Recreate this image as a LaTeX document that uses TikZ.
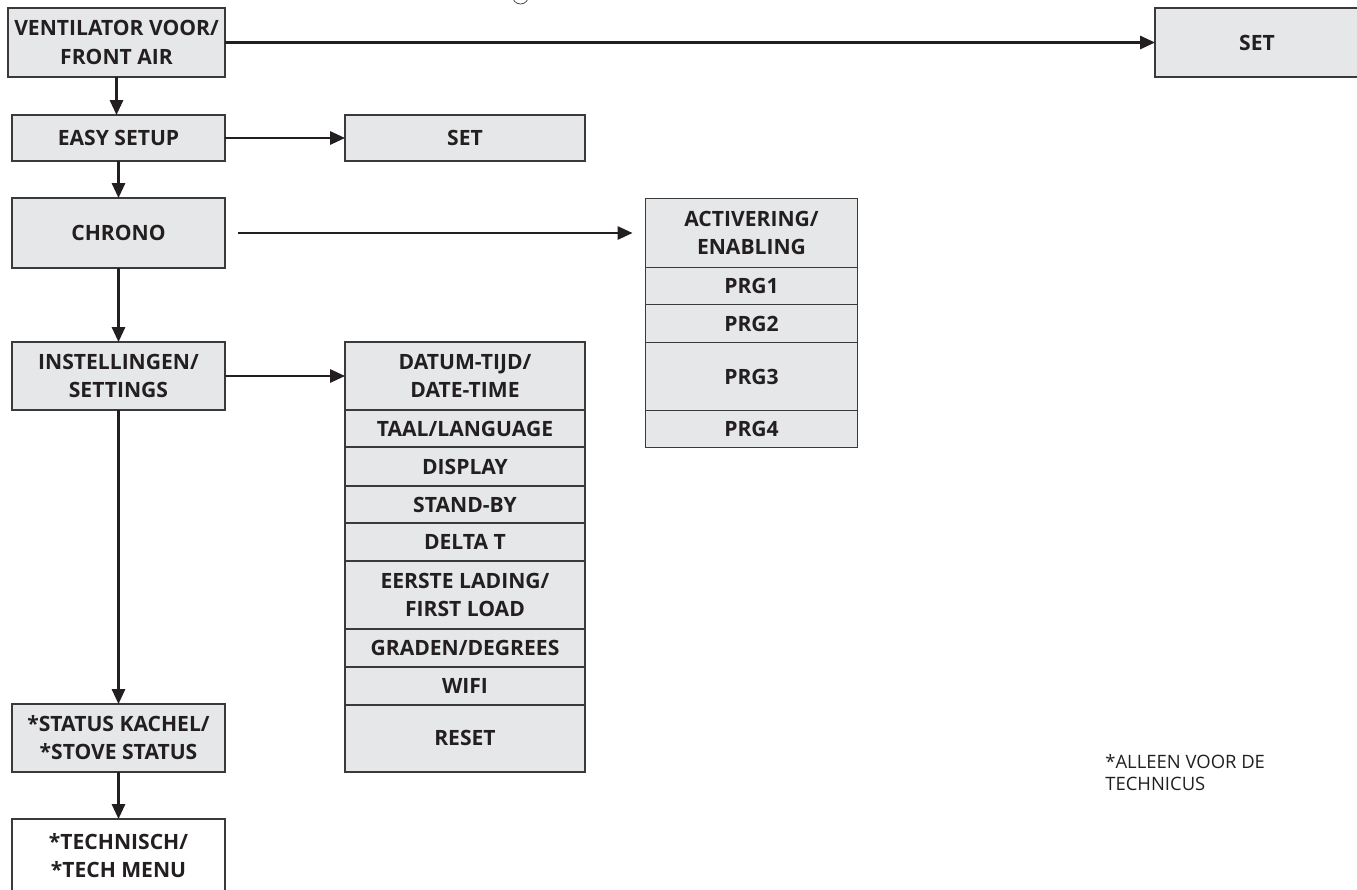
\documentclass[tikz,border=0pt]{standalone}
\usepackage{fontspec}
\setmainfont{Open Sans}
\usepackage{xcolor}
\usetikzlibrary{arrows.meta,positioning}
\definecolor{cInk}{HTML}{231F20}
\definecolor{cFill}{HTML}{E6E7E8}
\definecolor{cEdge}{HTML}{3A3A3C}
\tikzset{
  mbox/.style={draw=cEdge,fill=cFill,line width=0.7pt,align=center,inner sep=2pt,outer sep=0pt,
    text=cInk,font=\fontsize{12}{16}\selectfont\bfseries,minimum width=4.26cm},
  item/.style={mbox,minimum width=#1},
  item/.default=4.8cm,
  arr/.style={-{Triangle[length=8.5pt,width=7.5pt]},line width=1.35pt,color=cInk},
  note/.style={font=\fontsize{10.5}{12.5}\selectfont,text=cInk,align=left,anchor=north west,inner sep=0pt},
}
\begin{document}
\begin{tikzpicture}[x=0.02cm,y=-0.02cm]
  \useasboundingbox (0,0) rectangle (1357,890);
  % left column
  \node[mbox,minimum width=4.34cm,minimum height=1.38cm] (vent) at (116.5,42.5) {VENTILATOR VOOR/\\FRONT AIR};
  \node[mbox,minimum height=0.92cm] (easy) at (118.5,138) {EASY SETUP};
  \node[mbox,minimum height=1.40cm] (chrono) at (118.5,233) {CHRONO};
  \node[mbox,minimum height=1.36cm] (sett) at (118.5,376) {INSTELLINGEN/\\SETTINGS};
  \node[mbox,minimum height=1.36cm] (status) at (118.5,738) {*STATUS KACHEL/\\*STOVE STATUS};
  \node[mbox,fill=white,minimum height=1.46cm] (tech) at (118.5,855.5) {*TECHNISCH/\\*TECH MENU};
  % sub menus
  \node[mbox,minimum width=4.08cm,minimum height=1.38cm] (setA) at (1257,42.5) {SET};
  \node[item,minimum height=0.92cm] (setB) at (465,138) {SET};
  % chrono list
  \node[item=4.24cm,minimum height=1.38cm] (act) at (751.5,233) {ACTIVERING/\\ENABLING};
  \node[item=4.24cm,minimum height=0.74cm,below=0pt of act] (prg1) {PRG1};
  \node[item=4.24cm,minimum height=0.76cm,below=0pt of prg1] (prg2) {PRG2};
  \node[item=4.24cm,minimum height=1.36cm,below=0pt of prg2] (prg3) {PRG3};
  \node[item=4.24cm,minimum height=0.74cm,below=0pt of prg3] (prg4) {PRG4};
  % settings list
  \node[item,minimum height=1.36cm] (dt) at (465,376) {DATUM-TIJD/\\DATE-TIME};
  \node[item,minimum height=0.74cm,below=0pt of dt] (taal) {TAAL/LANGUAGE};
  \node[item,minimum height=0.78cm,below=0pt of taal] (disp) {DISPLAY};
  \node[item,minimum height=0.74cm,below=0pt of disp] (stby) {STAND-BY};
  \node[item,minimum height=0.76cm,below=0pt of stby] (delta) {DELTA T};
  \node[item,minimum height=1.36cm,below=0pt of delta] (load) {EERSTE LADING/\\FIRST LOAD};
  \node[item,minimum height=0.76cm,below=0pt of load] (deg) {GRADEN/DEGREES};
  \node[item,minimum height=0.76cm,below=0pt of deg] (wifi) {WIFI};
  \node[item,minimum height=1.34cm,below=0pt of wifi] (reset) {RESET};
  % footnote
  \node[note] (tnote) at (1105,754) {*ALLEEN VOOR DE\\TECHNICUS};
  \draw[cEdge,line width=0.4pt] (520.5,-4) circle (0.16cm);
  % connectors
  \draw[arr] (vent.east) -- (setA.west);
  \draw[arr] (vent.south) -- (vent.south |- easy.north);
  \draw[arr] (easy.east) -- (setB.west);
  \draw[arr] (easy) -- (chrono);
  \draw[arr,shorten <=0.26cm,shorten >=0.26cm] (chrono.east) -- (act.west);
  \draw[arr] (chrono) -- (sett);
  \draw[arr] (sett.east) -- (dt.west);
  \draw[arr] (sett) -- (status);
  \draw[arr] (status) -- (tech);
\end{tikzpicture}
\end{document}
